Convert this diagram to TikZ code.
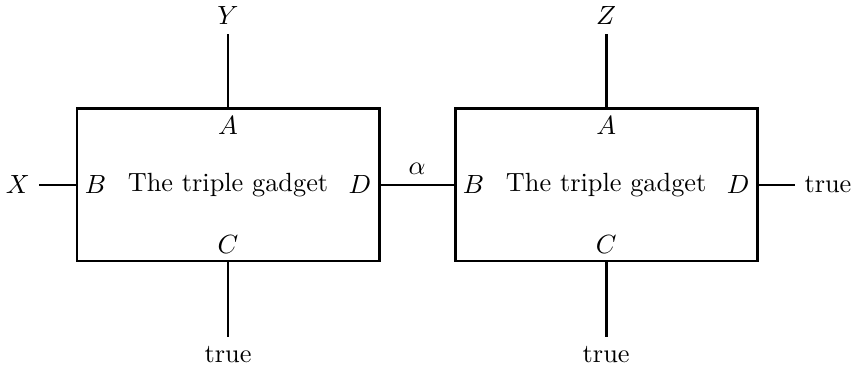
\documentclass[tikz,border=0pt]{standalone}
\usepackage{amsmath,amssymb}
\usepackage{tikz}
\usetikzlibrary{positioning}

\begin{document}
\begin{tikzpicture}[
  x=0.38pt,y=-0.38pt,
  every node/.style={align=center},
  gadget/.style={draw,line width=1.1pt,minimum width=114.8pt,
                 minimum height=57.8pt,inner sep=0pt},
  wire/.style={line width=1.1pt}
]
\useasboundingbox (0,0) rectangle (854,373);

% the two gadgets
\node[gadget] (g1) at (228,185) {The triple gadget};
\node[gadget,right=27.8pt of g1] (g2) {The triple gadget};

% pin names inside the boxes
\node[below=0pt of g1.north] (g1A) {$A$};
\node[right=0pt of g1.west] (g1B) {$B$};
\node[above=0pt of g1.south] (g1C) {$C$};
\node[left=0pt of g1.east] (g1D) {$D$};
\node[below=0pt of g2.north] (g2A) {$A$};
\node[right=0pt of g2.west] (g2B) {$B$};
\node[above=0pt of g2.south] (g2C) {$C$};
\node[left=0pt of g2.east] (g2D) {$D$};

% outer ends
\node[above=28pt of g1.north] (Y) {$Y$};
\node[left=13.9pt of g1.west] (X) {$X$};
\node[below=28.5pt of g1.south] (t1) {true};
\node[above=28pt of g2.north] (Z) {$Z$};
\node[below=28.5pt of g2.south] (t2) {true};
\node[right=13.9pt of g2.east] (t3) {true};

\draw[wire] (g1.north)--(Y);
\draw[wire] (g1.west)--(X);
\draw[wire] (g1.south)--(t1);
\draw[wire] (g2.north)--(Z);
\draw[wire] (g2.south)--(t2);
\draw[wire] (g2.east)--(t3);
\draw[wire] (g1.east)--node[above] (alpha) {$\alpha$} (g2.west);
\end{tikzpicture}
\end{document}
